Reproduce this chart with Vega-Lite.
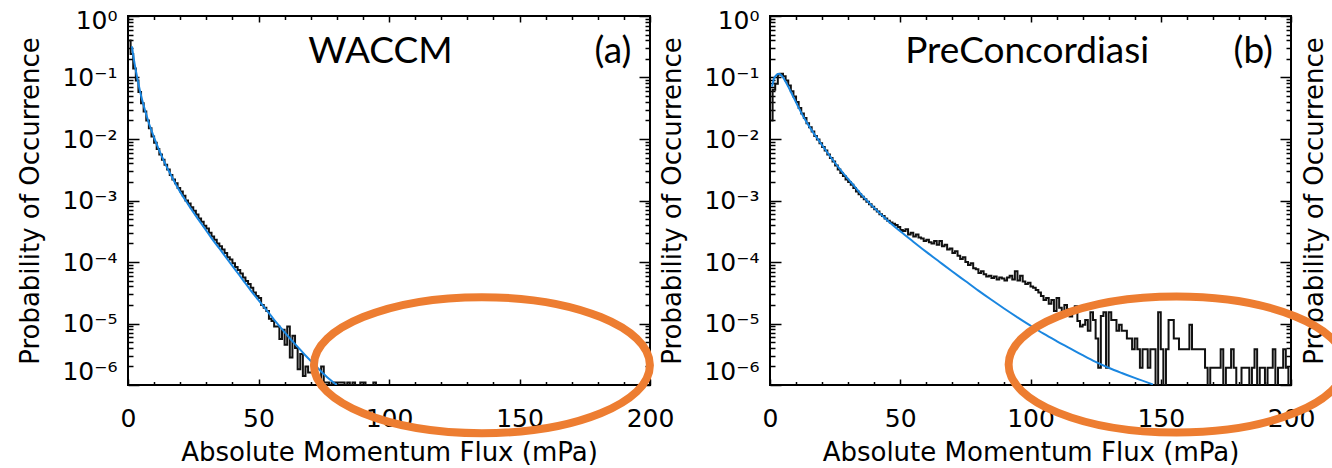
{
  "$schema": "https://vega.github.io/schema/vega-lite/v6.json",
  "background": "white",
  "padding": {"left": 16, "top": 5, "right": 0, "bottom": 0},
  "spacing": -17,
  "config": {
    "view": {"stroke": "black", "strokeWidth": 2},
    "axis": {
      "grid": false, "domain": false, "tickColor": "black", "tickWidth": 1.5,
      "labelFont": "DejaVu Sans", "labelFontSize": 25, "labelColor": "black",
      "titleFont": "DejaVu Sans", "titleFontSize": 26, "titleFontWeight": "normal", "titleColor": "black",
      "labelOverlap": false
    }
  },
  "datasets": {
    "histA": [
      {"flux":0.5,"prob":0.40},{"flux":1.5,"prob":0.24},{"flux":2.5,"prob":0.14},{"flux":3.5,"prob":0.089},{"flux":4.5,"prob":0.058},
      {"flux":5.5,"prob":0.038},{"flux":6.5,"prob":0.028},{"flux":7.5,"prob":0.020},{"flux":8.5,"prob":0.015},{"flux":9.5,"prob":0.011},
      {"flux":10.5,"prob":0.0087},{"flux":11.5,"prob":0.0069},{"flux":12.5,"prob":0.0056},{"flux":13.5,"prob":0.0046},{"flux":14.5,"prob":0.0038},
      {"flux":15.5,"prob":0.0032},{"flux":16.5,"prob":0.0026},{"flux":17.5,"prob":0.0022},{"flux":18.5,"prob":0.0019},{"flux":19.5,"prob":0.0016},
      {"flux":20.5,"prob":0.0014},{"flux":21.5,"prob":0.0012},{"flux":22.5,"prob":0.0010},{"flux":23.5,"prob":0.00089},{"flux":24.5,"prob":0.00078},
      {"flux":25.5,"prob":0.00068},{"flux":26.5,"prob":0.00059},{"flux":27.5,"prob":0.00051},{"flux":28.5,"prob":0.00045},{"flux":29.5,"prob":0.00039},
      {"flux":30.5,"prob":0.00035},{"flux":31.5,"prob":0.00030},{"flux":32.5,"prob":0.00026},{"flux":33.5,"prob":0.00023},{"flux":34.5,"prob":0.00020},
      {"flux":35.5,"prob":0.00018},{"flux":36.5,"prob":0.00016},{"flux":37.5,"prob":0.00014},{"flux":38.5,"prob":0.00012},{"flux":39.5,"prob":0.00011},
      {"flux":40.5,"prob":9.5e-5},{"flux":41.5,"prob":8.3e-5},{"flux":42.5,"prob":7.4e-5},{"flux":43.5,"prob":6.5e-5},{"flux":44.5,"prob":5.6e-5},
      {"flux":45.5,"prob":4.9e-5},{"flux":46.5,"prob":4.4e-5},{"flux":47.5,"prob":3.8e-5},{"flux":48.5,"prob":3.2e-5},{"flux":49.5,"prob":2.8e-5},
      {"flux":50.5,"prob":2.6e-5},{"flux":51.5,"prob":2.0e-5},{"flux":52.5,"prob":1.8e-5},{"flux":53.5,"prob":1.6e-5},{"flux":54.5,"prob":1.2e-5},
      {"flux":55.5,"prob":1.1e-5},{"flux":56.5,"prob":8.9e-6},{"flux":57.5,"prob":8.9e-6},{"flux":58.5,"prob":5.6e-6},{"flux":59.5,"prob":7.9e-6},
      {"flux":60.5,"prob":4.5e-6},{"flux":61.5,"prob":8.9e-6},{"flux":62.5,"prob":2.8e-6},{"flux":63.5,"prob":6.3e-6},{"flux":64.5,"prob":4.0e-6},
      {"flux":65.5,"prob":1.8e-6},{"flux":66.5,"prob":3.2e-6},{"flux":67.5,"prob":1.4e-6},{"flux":68.5,"prob":2.0e-6},{"flux":69.5,"prob":1.6e-6},
      {"flux":70.5,"prob":1.6e-6},{"flux":71.5,"prob":2.5e-6},{"flux":72.5,"prob":1.3e-6},{"flux":73.5,"prob":1.1e-6},{"flux":74.5,"prob":2.0e-6},
      {"flux":75.5,"prob":1.1e-6},{"flux":76.5,"prob":1.1e-6},{"flux":77.5,"prob":0},{"flux":78.5,"prob":1.1e-6},{"flux":79.5,"prob":1.1e-6},
      {"flux":80.5,"prob":1.1e-6},{"flux":81.5,"prob":1.1e-6},{"flux":82.5,"prob":1.1e-6},{"flux":83.5,"prob":0},{"flux":84.5,"prob":1.1e-6},
      {"flux":85.5,"prob":0},{"flux":86.5,"prob":1.1e-6},{"flux":87.5,"prob":0},{"flux":88.5,"prob":0},{"flux":89.5,"prob":1.1e-6},
      {"flux":90.5,"prob":1.1e-6},{"flux":91.5,"prob":0},{"flux":92.5,"prob":0},{"flux":93.5,"prob":0},{"flux":94.5,"prob":1.1e-6},
      {"flux":95.5,"prob":0}
    ],
    "fitA": [
      {"flux":1.5,"prob":0.32},{"flux":2,"prob":0.23},{"flux":2.5,"prob":0.17},{"flux":3,"prob":0.13},{"flux":4,"prob":0.079},
      {"flux":5,"prob":0.051},{"flux":6,"prob":0.035},{"flux":7,"prob":0.025},{"flux":8,"prob":0.018},{"flux":9,"prob":0.0138},
      {"flux":10,"prob":0.0105},{"flux":12,"prob":0.00646},{"flux":14,"prob":0.00417},{"flux":16,"prob":0.00282},{"flux":18,"prob":0.00195},
      {"flux":20,"prob":0.00138},{"flux":23,"prob":0.000871},{"flux":26,"prob":0.000562},{"flux":29,"prob":0.000372},{"flux":32,"prob":0.000245},
      {"flux":35,"prob":0.000166},{"flux":38,"prob":0.000112},{"flux":41,"prob":7.59e-5},{"flux":44,"prob":5.13e-5},{"flux":47,"prob":3.47e-5},
      {"flux":50,"prob":2.40e-5},{"flux":53,"prob":1.66e-5},{"flux":56,"prob":1.15e-5},{"flux":59,"prob":8.13e-6},{"flux":62,"prob":5.75e-6},
      {"flux":65,"prob":4.17e-6},{"flux":68,"prob":3.02e-6},{"flux":71,"prob":2.24e-6},{"flux":74,"prob":1.66e-6},{"flux":77,"prob":1.26e-6},
      {"flux":80,"prob":1.0e-6}
    ],
    "histB": [
      {"flux":0.5,"prob":0.020},{"flux":1.5,"prob":0.063},{"flux":2.5,"prob":0.079},{"flux":3.5,"prob":0.112},{"flux":4.5,"prob":0.115},
      {"flux":5.5,"prob":0.105},{"flux":6.5,"prob":0.089},{"flux":7.5,"prob":0.074},{"flux":8.5,"prob":0.060},{"flux":9.5,"prob":0.049},
      {"flux":10.5,"prob":0.040},{"flux":11.5,"prob":0.032},{"flux":12.5,"prob":0.026},{"flux":13.5,"prob":0.022},{"flux":14.5,"prob":0.018},
      {"flux":15.5,"prob":0.0155},{"flux":16.5,"prob":0.0132},{"flux":17.5,"prob":0.0112},{"flux":18.5,"prob":0.0098},{"flux":19.5,"prob":0.0085},
      {"flux":20.5,"prob":0.0074},{"flux":21.5,"prob":0.0065},{"flux":22.5,"prob":0.0056},{"flux":23.5,"prob":0.0049},{"flux":24.5,"prob":0.0043},
      {"flux":25.5,"prob":0.0037},{"flux":26.5,"prob":0.0032},{"flux":27.5,"prob":0.0028},{"flux":28.5,"prob":0.0025},{"flux":29.5,"prob":0.0022},
      {"flux":30.5,"prob":0.0020},{"flux":31.5,"prob":0.0018},{"flux":32.5,"prob":0.0016},{"flux":33.5,"prob":0.0014},{"flux":34.5,"prob":0.00126},
      {"flux":35.5,"prob":0.00115},{"flux":36.5,"prob":0.00105},{"flux":37.5,"prob":0.00095},{"flux":38.5,"prob":0.00087},{"flux":39.5,"prob":0.00079},
      {"flux":40.5,"prob":0.00072},{"flux":41.5,"prob":0.00066},{"flux":42.5,"prob":0.00060},{"flux":43.5,"prob":0.00056},{"flux":44.5,"prob":0.00051},
      {"flux":45.5,"prob":0.00047},{"flux":46.5,"prob":0.00044},{"flux":47.5,"prob":0.00042},{"flux":48.5,"prob":0.00040},{"flux":49.5,"prob":0.00037},
      {"flux":50.5,"prob":0.00033},{"flux":51.5,"prob":0.00032},{"flux":52.5,"prob":0.00034},{"flux":53.5,"prob":0.00028},{"flux":54.5,"prob":0.00030},
      {"flux":55.5,"prob":0.00026},{"flux":56.5,"prob":0.00028},{"flux":57.5,"prob":0.00025},{"flux":58.5,"prob":0.00024},{"flux":59.5,"prob":0.00022},
      {"flux":60.5,"prob":0.00023},{"flux":61.5,"prob":0.00021},{"flux":62.5,"prob":0.00020},{"flux":63.5,"prob":0.00022},{"flux":64.5,"prob":0.00019},
      {"flux":65.5,"prob":0.00022},{"flux":66.5,"prob":0.00018},{"flux":67.5,"prob":0.00019},{"flux":68.5,"prob":0.00016},{"flux":69.5,"prob":0.000166},
      {"flux":70.5,"prob":0.00014},{"flux":71.5,"prob":0.00015},{"flux":72.5,"prob":0.000126},{"flux":73.5,"prob":0.000112},{"flux":74.5,"prob":0.00012},
      {"flux":75.5,"prob":0.00010},{"flux":76.5,"prob":8.9e-5},{"flux":77.5,"prob":9.5e-5},{"flux":78.5,"prob":7.9e-5},{"flux":79.5,"prob":7.6e-5},
      {"flux":80.5,"prob":6.6e-5},{"flux":81.5,"prob":7.1e-5},{"flux":82.5,"prob":6.3e-5},{"flux":83.5,"prob":5.8e-5},{"flux":84.5,"prob":6.0e-5},
      {"flux":85.5,"prob":5.5e-5},{"flux":86.5,"prob":5.8e-5},{"flux":87.5,"prob":5.2e-5},{"flux":88.5,"prob":5.6e-5},{"flux":89.5,"prob":5.4e-5},
      {"flux":90.5,"prob":5.0e-5},{"flux":91.5,"prob":5.6e-5},{"flux":92.5,"prob":6.0e-5},{"flux":93.5,"prob":5.2e-5},{"flux":94.5,"prob":7.1e-5},
      {"flux":95.5,"prob":5.0e-5},{"flux":96.5,"prob":6.0e-5},{"flux":97.5,"prob":4.8e-5},{"flux":98.5,"prob":4.4e-5},{"flux":99.5,"prob":4.6e-5},
      {"flux":100.5,"prob":4.0e-5},{"flux":101.5,"prob":3.8e-5},{"flux":102.5,"prob":3.5e-5},{"flux":103.5,"prob":3.2e-5},{"flux":104.5,"prob":2.8e-5},
      {"flux":105.5,"prob":2.4e-5},{"flux":106.5,"prob":2.6e-5},{"flux":107.5,"prob":2.1e-5},{"flux":108.5,"prob":2.4e-5},{"flux":109.5,"prob":1.6e-5},
      {"flux":110.5,"prob":2.6e-5},{"flux":111.5,"prob":1.8e-5},{"flux":112.5,"prob":1.4e-5},{"flux":113.5,"prob":2.0e-5},{"flux":114.5,"prob":1.7e-5},
      {"flux":115.5,"prob":1.3e-5},{"flux":116.5,"prob":1.6e-5},{"flux":117.5,"prob":1.9e-5},{"flux":118.5,"prob":1.1e-5},{"flux":119.5,"prob":8.9e-6},
      {"flux":120.5,"prob":9.5e-6},{"flux":121.5,"prob":1.14e-5},{"flux":122.5,"prob":7.6e-6},{"flux":123.5,"prob":1.52e-5},{"flux":124.5,"prob":1.14e-5},
      {"flux":125.5,"prob":5.7e-6},{"flux":126.5,"prob":1.9e-6},{"flux":127.5,"prob":1.33e-5},{"flux":128.5,"prob":1.52e-5},{"flux":129.5,"prob":1.9e-6},
      {"flux":130.5,"prob":1.52e-5},{"flux":131.5,"prob":1.14e-5},{"flux":132.5,"prob":1.14e-5},{"flux":133.5,"prob":7.6e-6},{"flux":134.5,"prob":9.5e-6},
      {"flux":135.5,"prob":7.6e-6},{"flux":136.5,"prob":7.6e-6},{"flux":137.5,"prob":5.7e-6},{"flux":138.5,"prob":5.7e-6},{"flux":139.5,"prob":3.8e-6},
      {"flux":140.5,"prob":5.7e-6},{"flux":141.5,"prob":3.8e-6},{"flux":142.5,"prob":1.9e-6},{"flux":143.5,"prob":3.8e-6},{"flux":144.5,"prob":3.8e-6},
      {"flux":145.5,"prob":1.9e-6},{"flux":146.5,"prob":3.8e-6},{"flux":147.5,"prob":3.8e-6},{"flux":148.5,"prob":0},{"flux":149.5,"prob":1.52e-5},
      {"flux":150.5,"prob":3.8e-6},{"flux":151.5,"prob":0},{"flux":152.5,"prob":3.8e-6},{"flux":153.5,"prob":1.14e-5},{"flux":154.5,"prob":1.14e-5},
      {"flux":155.5,"prob":5.7e-6},{"flux":156.5,"prob":5.7e-6},{"flux":157.5,"prob":3.8e-6},{"flux":158.5,"prob":3.8e-6},{"flux":159.5,"prob":3.8e-6},
      {"flux":160.5,"prob":3.8e-6},{"flux":161.5,"prob":9.5e-6},{"flux":162.5,"prob":3.8e-6},{"flux":163.5,"prob":3.8e-6},{"flux":164.5,"prob":3.8e-6},
      {"flux":165.5,"prob":3.8e-6},{"flux":166.5,"prob":3.8e-6},{"flux":167.5,"prob":1.9e-6},{"flux":168.5,"prob":0},{"flux":169.5,"prob":1.9e-6},
      {"flux":170.5,"prob":1.9e-6},{"flux":171.5,"prob":1.9e-6},{"flux":172.5,"prob":1.9e-6},{"flux":173.5,"prob":3.8e-6},{"flux":174.5,"prob":0},
      {"flux":175.5,"prob":1.9e-6},{"flux":176.5,"prob":1.9e-6},{"flux":177.5,"prob":3.8e-6},{"flux":178.5,"prob":1.9e-6},{"flux":179.5,"prob":0},
      {"flux":180.5,"prob":0},{"flux":181.5,"prob":1.9e-6},{"flux":182.5,"prob":1.9e-6},{"flux":183.5,"prob":1.9e-6},{"flux":184.5,"prob":0},
      {"flux":185.5,"prob":1.9e-6},{"flux":186.5,"prob":3.8e-6},{"flux":187.5,"prob":0},{"flux":188.5,"prob":1.9e-6},{"flux":189.5,"prob":1.9e-6},
      {"flux":190.5,"prob":0},{"flux":191.5,"prob":1.9e-6},{"flux":192.5,"prob":1.9e-6},{"flux":193.5,"prob":3.8e-6},{"flux":194.5,"prob":0},
      {"flux":195.5,"prob":1.9e-6},{"flux":196.5,"prob":1.9e-6},{"flux":197.5,"prob":3.8e-6},{"flux":198.5,"prob":1.9e-6},{"flux":199.5,"prob":0}
    ],
    "fitB": [
      {"flux":0.8,"prob":0.071},{"flux":1.5,"prob":0.095},{"flux":2.5,"prob":0.11},{"flux":3.5,"prob":0.115},{"flux":4.5,"prob":0.107},
      {"flux":5.5,"prob":0.093},{"flux":7,"prob":0.071},{"flux":9,"prob":0.048},{"flux":11,"prob":0.0324},{"flux":13,"prob":0.0224},
      {"flux":15,"prob":0.0162},{"flux":17,"prob":0.0120},{"flux":19,"prob":0.00912},{"flux":22,"prob":0.00603},{"flux":25,"prob":0.00407},
      {"flux":28,"prob":0.00282},{"flux":31,"prob":0.00200},{"flux":35,"prob":0.00126},{"flux":40,"prob":0.000759},{"flux":45,"prob":0.000479},
      {"flux":50,"prob":0.000316},{"flux":55,"prob":0.000214},{"flux":60,"prob":0.000146},{"flux":65,"prob":0.000101},{"flux":70,"prob":7.0e-5},
      {"flux":75,"prob":4.90e-5},{"flux":80,"prob":3.43e-5},{"flux":85,"prob":2.43e-5},{"flux":90,"prob":1.74e-5},{"flux":95,"prob":1.26e-5},
      {"flux":100,"prob":9.23e-6},{"flux":105,"prob":6.84e-6},{"flux":110,"prob":5.19e-6},{"flux":115,"prob":3.98e-6},{"flux":120,"prob":3.05e-6},
      {"flux":125,"prob":2.37e-6},{"flux":130,"prob":1.905e-6},{"flux":135,"prob":1.567e-6},{"flux":140,"prob":1.303e-6},{"flux":147,"prob":1.023e-6}
    ],
    "labelsA": [
      {"flux":96.7,"prob":0.172,"label":"WACCM"},
      {"flux":185.8,"prob":0.172,"label":"(a)"}
    ],
    "labelsB": [
      {"flux":98.7,"prob":0.172,"label":"PreConcordiasi"},
      {"flux":185.5,"prob":0.172,"label":"(b)"}
    ],
    "ringA": [{"flux":135.6,"prob":2.1e-6}],
    "ringB": [{"flux":156.1,"prob":2.15e-6}]
  },
  "hconcat": [
    {
      "width": 522,
      "height": 369,
      "resolve": {"axis": {"x": "independent", "y": "independent"}},
      "layer": [
        {
          "data": {"name": "histA"},
          "mark": {"type": "line", "interpolate": "step", "color": "#111111", "strokeWidth": 2, "clip": true, "invalid": null},
          "encoding": {
            "x": {"field": "flux", "type": "quantitative", "scale": {"domain": [0, 200]},
              "axis": {"orient": "bottom", "values": [0,10,20,30,40,50,60,70,80,90,100,110,120,130,140,150,160,170,180,190,200],
                "labelExpr": "datum.value % 50 === 0 ? datum.label : ''", "labelFlush": false,
                "tickSize": {"condition": {"test": "datum.value % 50 === 0", "value": -6}, "value": -3.5},
                "labelPadding": 27, "title": "Absolute Momentum Flux (mPa)", "titlePadding": 6}},
            "y": {"field": "prob", "type": "quantitative", "scale": {"type": "log", "domain": [1e-6, 1], "clamp": true},
              "axis": {"orient": "left",
                "values": [1e-6,2e-6,3e-6,4e-6,5e-6,6e-6,7e-6,8e-6,9e-6,1e-5,2e-5,3e-5,4e-5,5e-5,6e-5,7e-5,8e-5,9e-5,1e-4,2e-4,3e-4,4e-4,5e-4,6e-4,7e-4,8e-4,9e-4,0.001,0.002,0.003,0.004,0.005,0.006,0.007,0.008,0.009,0.01,0.02,0.03,0.04,0.05,0.06,0.07,0.08,0.09,0.1,0.2,0.3,0.4,0.5,0.6,0.7,0.8,0.9,1],
                "labelExpr": "abs(log(datum.value)/LN10 - round(log(datum.value)/LN10)) < 0.001 ? '10' + (datum.value > 0.5 ? '⁰' : '⁻' + substring('¹²³⁴⁵⁶', round(-log(datum.value)/LN10) - 1, round(-log(datum.value)/LN10))) : ''",
                "labelFlush": false,
                "labelOffset": {"condition": [{"test": "datum.value < 1.5e-6", "value": -14}, {"test": "datum.value > 0.95", "value": 4}], "value": 0},
                "tickSize": {"condition": {"test": "abs(log(datum.value)/LN10 - round(log(datum.value)/LN10)) < 0.001", "value": -11}, "value": -5},
                "labelPadding": 22, "title": "Probability of Occurrence", "titlePadding": 18}}
          }
        },
        {
          "data": {"name": "fitA"},
          "mark": {"type": "line", "interpolate": "monotone", "color": "#1a86e0", "strokeWidth": 2, "clip": true},
          "encoding": {
            "x": {"field": "flux", "type": "quantitative", "scale": {"domain": [0, 200]},
              "axis": {"orient": "top", "values": [0,10,20,30,40,50,60,70,80,90,100,110,120,130,140,150,160,170,180,190,200],
                "labels": false, "title": null,
                "tickSize": {"condition": {"test": "datum.value % 50 === 0", "value": -6}, "value": -3.5}}},
            "y": {"field": "prob", "type": "quantitative", "scale": {"type": "log", "domain": [1e-6, 1], "clamp": true},
              "axis": {"orient": "right",
                "values": [1e-6,2e-6,3e-6,4e-6,5e-6,6e-6,7e-6,8e-6,9e-6,1e-5,2e-5,3e-5,4e-5,5e-5,6e-5,7e-5,8e-5,9e-5,1e-4,2e-4,3e-4,4e-4,5e-4,6e-4,7e-4,8e-4,9e-4,0.001,0.002,0.003,0.004,0.005,0.006,0.007,0.008,0.009,0.01,0.02,0.03,0.04,0.05,0.06,0.07,0.08,0.09,0.1,0.2,0.3,0.4,0.5,0.6,0.7,0.8,0.9,1],
                "labels": false, "title": null,
                "tickSize": {"condition": {"test": "abs(log(datum.value)/LN10 - round(log(datum.value)/LN10)) < 0.001", "value": -11}, "value": -5}}}
          }
        },
        {
          "data": {"name": "labelsA"},
          "mark": {"type": "text", "font": "Lato", "fontSize": 37, "color": "black", "align": "center", "baseline": "alphabetic"},
          "encoding": {
            "x": {"field": "flux", "type": "quantitative", "axis": null},
            "y": {"field": "prob", "type": "quantitative", "axis": null},
            "text": {"field": "label"}
          }
        },
        {
          "data": {"name": "ringA"},
          "mark": {"type": "point", "shape": "M-1,0A1,0.405,0,1,1,1,0A1,0.405,0,1,1,-1,0Z", "size": 112896, "filled": false, "stroke": "#ED7D31", "strokeWidth": 8, "opacity": 1},
          "encoding": {
            "x": {"field": "flux", "type": "quantitative", "axis": null},
            "y": {"field": "prob", "type": "quantitative", "axis": null}
          }
        }
      ]
    },
    {
      "width": 521,
      "height": 369,
      "resolve": {"axis": {"x": "independent", "y": "independent"}},
      "layer": [
        {
          "data": {"name": "histB"},
          "mark": {"type": "line", "interpolate": "step", "color": "#111111", "strokeWidth": 2, "clip": true, "invalid": null},
          "encoding": {
            "x": {"field": "flux", "type": "quantitative", "scale": {"domain": [0, 200]},
              "axis": {"orient": "bottom", "values": [0,10,20,30,40,50,60,70,80,90,100,110,120,130,140,150,160,170,180,190,200],
                "labelExpr": "datum.value % 50 === 0 ? datum.label : ''", "labelFlush": false,
                "tickSize": {"condition": {"test": "datum.value % 50 === 0", "value": -6}, "value": -3.5},
                "labelPadding": 27, "title": "Absolute Momentum Flux (mPa)", "titlePadding": 6}},
            "y": {"field": "prob", "type": "quantitative", "scale": {"type": "log", "domain": [1e-6, 1], "clamp": true},
              "axis": {"orient": "left",
                "values": [1e-6,2e-6,3e-6,4e-6,5e-6,6e-6,7e-6,8e-6,9e-6,1e-5,2e-5,3e-5,4e-5,5e-5,6e-5,7e-5,8e-5,9e-5,1e-4,2e-4,3e-4,4e-4,5e-4,6e-4,7e-4,8e-4,9e-4,0.001,0.002,0.003,0.004,0.005,0.006,0.007,0.008,0.009,0.01,0.02,0.03,0.04,0.05,0.06,0.07,0.08,0.09,0.1,0.2,0.3,0.4,0.5,0.6,0.7,0.8,0.9,1],
                "labelExpr": "abs(log(datum.value)/LN10 - round(log(datum.value)/LN10)) < 0.001 ? '10' + (datum.value > 0.5 ? '⁰' : '⁻' + substring('¹²³⁴⁵⁶', round(-log(datum.value)/LN10) - 1, round(-log(datum.value)/LN10))) : ''",
                "labelFlush": false,
                "labelOffset": {"condition": [{"test": "datum.value < 1.5e-6", "value": -14}, {"test": "datum.value > 0.95", "value": 4}], "value": 0},
                "tickSize": {"condition": {"test": "abs(log(datum.value)/LN10 - round(log(datum.value)/LN10)) < 0.001", "value": -11}, "value": -5},
                "labelPadding": 22, "title": "Probability of Occurrence", "titlePadding": 18}}
          }
        },
        {
          "data": {"name": "fitB"},
          "mark": {"type": "line", "interpolate": "monotone", "color": "#1a86e0", "strokeWidth": 2, "clip": true},
          "encoding": {
            "x": {"field": "flux", "type": "quantitative", "scale": {"domain": [0, 200]},
              "axis": {"orient": "top", "values": [0,10,20,30,40,50,60,70,80,90,100,110,120,130,140,150,160,170,180,190,200],
                "labels": false, "title": null,
                "tickSize": {"condition": {"test": "datum.value % 50 === 0", "value": -6}, "value": -3.5}}},
            "y": {"field": "prob", "type": "quantitative", "scale": {"type": "log", "domain": [1e-6, 1], "clamp": true},
              "axis": {"orient": "right",
                "values": [1e-6,2e-6,3e-6,4e-6,5e-6,6e-6,7e-6,8e-6,9e-6,1e-5,2e-5,3e-5,4e-5,5e-5,6e-5,7e-5,8e-5,9e-5,1e-4,2e-4,3e-4,4e-4,5e-4,6e-4,7e-4,8e-4,9e-4,0.001,0.002,0.003,0.004,0.005,0.006,0.007,0.008,0.009,0.01,0.02,0.03,0.04,0.05,0.06,0.07,0.08,0.09,0.1,0.2,0.3,0.4,0.5,0.6,0.7,0.8,0.9,1],
                "labels": false, "title": "Probability of Occurrence", "titleAngle": 270, "titleBaseline": "top", "titlePadding": 10,
                "tickSize": {"condition": {"test": "abs(log(datum.value)/LN10 - round(log(datum.value)/LN10)) < 0.001", "value": -11}, "value": -5}}}
          }
        },
        {
          "data": {"name": "labelsB"},
          "mark": {"type": "text", "font": "Lato", "fontSize": 37, "color": "black", "align": "center", "baseline": "alphabetic"},
          "encoding": {
            "x": {"field": "flux", "type": "quantitative", "axis": null},
            "y": {"field": "prob", "type": "quantitative", "axis": null},
            "text": {"field": "label"}
          }
        },
        {
          "data": {"name": "ringB"},
          "mark": {"type": "point", "shape": "M-1,0A1,0.405,0,1,1,1,0A1,0.405,0,1,1,-1,0Z", "size": 112896, "filled": false, "stroke": "#ED7D31", "strokeWidth": 8, "opacity": 1},
          "encoding": {
            "x": {"field": "flux", "type": "quantitative", "axis": null},
            "y": {"field": "prob", "type": "quantitative", "axis": null}
          }
        }
      ]
    }
  ]
}
